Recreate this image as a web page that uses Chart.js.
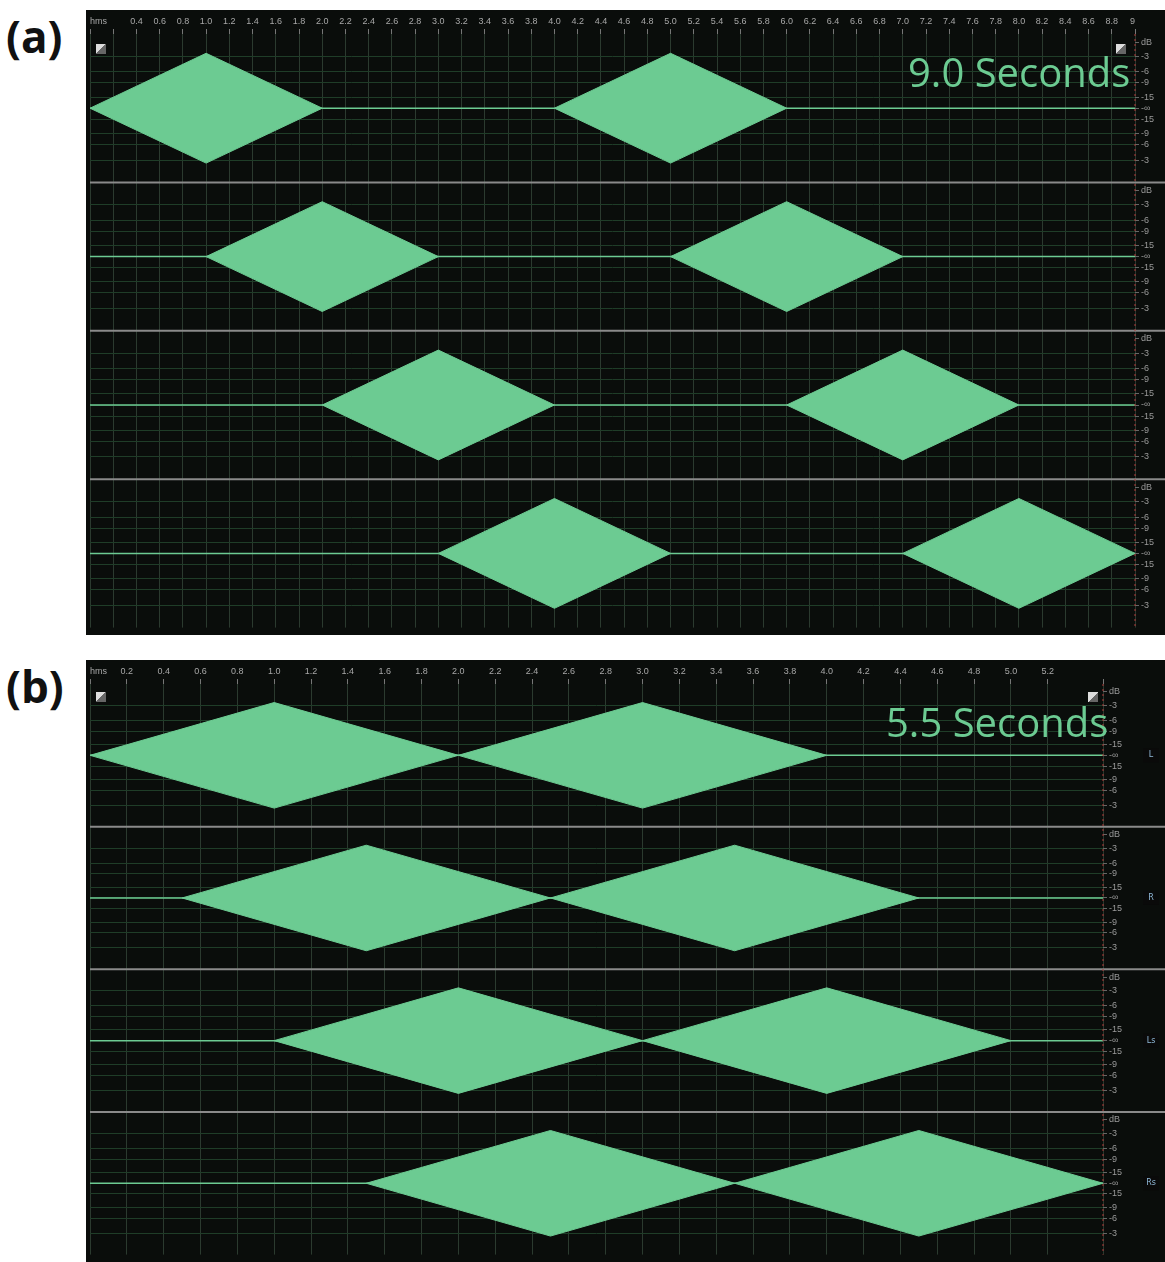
<!DOCTYPE html>
<html>
<head>
<meta charset="utf-8">
<script src="https://cdn.jsdelivr.net/npm/chart.js@4.4.1/dist/chart.umd.min.js"></script>
<style>
  body { margin: 0; background: #fff; width: 1165px; height: 1262px; position: relative; overflow: hidden; font-family: "Open Sans", "DejaVu Sans", sans-serif; }
  .panel { position: absolute; left: 86px; width: 1079px; background: #141414; }
  .tag { position: absolute; left: 6px; font: bold 44px "Open Sans", "DejaVu Sans", sans-serif; color: #111; }
  .secs { position: absolute; font-size: 40px; color: #6ccb92; font-family: "Open Sans", "Noto Sans", sans-serif; }
  .ico { position: absolute; width: 10px; height: 10px; background: linear-gradient(135deg, #ddd 50%, #666 50%); }
</style>
</head>
<body>
<div class="tag" style="top:6px">(a)</div>
<div class="tag" style="top:656px">(b)</div>
<div class="panel" style="top:10px;height:625px"><canvas id="chartA"></canvas></div>
<div class="panel" style="top:660px;height:602px"><canvas id="chartB"></canvas></div>
<div class="secs" style="left:908px;top:44px">9.0 Seconds</div>
<div class="secs" style="left:886px;top:694px">5.5 Seconds</div>
<div class="ico" style="left:96px;top:44px"></div>
<div class="ico" style="left:1116px;top:44px"></div>
<div class="ico" style="left:96px;top:692px"></div>
<div class="ico" style="left:1088px;top:692px"></div>
<script>
// track order top to bottom: L, R, Ls, Rs
const channels = ['L', 'R', 'Ls', 'Rs'];
const trackCenters = [3.5, 2.5, 1.5, 0.5];

// (a) 9.0 seconds: start time of each 2 s burst per track
const burstStartsA = [[0, 4], [1, 5], [2, 6], [3, 7]];
// (b) 5.5 seconds
const burstStartsB = [[0, 2], [0.5, 2.5], [1, 3], [1.5, 3.5]];
const burstLength = 2.0;
const burstAmp = 0.37;   // envelope peak, in track units (track height = 1)

// dB ruler on the right of each track, offset from centre as fraction of half track
const dbLabels  = ['-3', '-6', '-9', '-15', '-∞', '-15', '-9', '-6', '-3', 'dB'];
const dbOffsets = [-0.70, -0.49, -0.34, -0.15, 0, 0.15, 0.34, 0.49, 0.70, 0.89];

const green = '#6ccb92';

function buildDatasets(starts) {
    const sets = [];
    trackCenters.forEach((c, t) => {
        sets.push({
            data: [{ x: 0, y: c }, { x: 20, y: c }],
            borderColor: green, borderWidth: 1.5, pointRadius: 0, fill: false
        });
        starts[t].forEach(s => {
            const mid = s + burstLength / 2;
            const end = s + burstLength;
            sets.push({
                data: [{ x: s, y: c }, { x: mid, y: c + burstAmp }, { x: end, y: c }],
                borderColor: green, borderWidth: 1, pointRadius: 0, fill: false
            });
            sets.push({
                data: [{ x: s, y: c }, { x: mid, y: c - burstAmp }, { x: end, y: c }],
                borderColor: green, borderWidth: 1, pointRadius: 0,
                backgroundColor: green, fill: '-1'
            });
        });
    });
    return sets;
}

const trackDecor = {
    id: 'trackDecor',
    afterDatasetsDraw(chart, args, opts) {
        const { ctx, chartArea, scales } = chart;
        ctx.save();
        // track separators
        ctx.strokeStyle = '#8a8a8a';
        ctx.lineWidth = 2;
        [1, 2, 3].forEach(v => {
            const y = scales.y.getPixelForValue(v);
            ctx.beginPath();
            ctx.moveTo(chartArea.left, y);
            ctx.lineTo(chart.width, y);
            ctx.stroke();
        });
        // red dotted end marker
        ctx.strokeStyle = '#b03a3a';
        ctx.lineWidth = 1;
        ctx.setLineDash([2, 3]);
        ctx.beginPath();
        ctx.moveTo(chartArea.right, chartArea.top);
        ctx.lineTo(chartArea.right, chartArea.bottom);
        ctx.stroke();
        ctx.setLineDash([]);
        // channel badges
        if (opts.badges) {
            ctx.font = '8px "DejaVu Sans"';
            ctx.textAlign = 'center';
            ctx.textBaseline = 'middle';
            trackCenters.forEach((c, i) => {
                const y = scales.y.getPixelForValue(c);
                ctx.fillStyle = '#0a0a0a';
                ctx.fillRect(chart.width - 22, y - 7, 16, 14);
                ctx.fillStyle = '#8fb8d8';
                ctx.fillText(channels[i], chart.width - 14, y);
            });
        }
        ctx.restore();
    }
};

function makeChart(id, starts, maxT, yWidth, badges, firstLabel) {
    return new Chart(document.getElementById(id), {
        type: 'line',
        data: { datasets: buildDatasets(starts) },
        plugins: [trackDecor],
        options: {
            responsive: true,
            maintainAspectRatio: false,
            animation: false,
            layout: { padding: { left: 4, right: 0, top: 0, bottom: 0 } },
            plugins: { legend: { display: false }, tooltip: { enabled: false }, trackDecor: { badges } },
            scales: {
                x: {
                    type: 'linear', position: 'top', min: 0, max: maxT,
                    afterFit: s => { s.height = 24; s.paddingLeft = 0; s.paddingRight = 0; },
                    ticks: {
                        stepSize: 0.2, autoSkip: false, maxRotation: 0, color: '#a8a8a8',
                        font: { size: 9 }, padding: 2, align: 'inner',
                        callback: v => {
                            if (v === 0) return 'hms';
                            if (v < firstLabel - 0.05) return '';
                            if (v > maxT - 0.15) return Number.isInteger(maxT) ? String(maxT) : '';
                            return v.toFixed(1);
                        }
                    },
                    grid: { color: '#2b3a2f', tickColor: '#777', tickLength: 5, lineWidth: 1 },
                    border: { display: false }
                },
                y: {
                    type: 'linear', position: 'right', min: 0, max: 4,
                    afterFit: s => { s.width = yWidth; },
                    afterBuildTicks: s => {
                        const ticks = [];
                        trackCenters.slice().reverse().forEach(c => {
                            dbOffsets.forEach((o, i) => ticks.push({ value: c + o * 0.5, label: dbLabels[i] }));
                        });
                        s.ticks = ticks;
                    },
                    ticks: {
                        autoSkip: false, color: '#9a9a9a', font: { size: 9 }, padding: 2,
                        callback: function (v, i) { return dbLabels[i % dbLabels.length]; }
                    },
                    grid: {
                        color: ctx => (ctx.tick && ctx.index % dbLabels.length === 9) ? 'rgba(0,0,0,0)' : '#1f3d28',
                        tickColor: '#666', tickLength: 4
                    },
                    border: { display: false }
                }
            }
        }
    });
}

document.querySelectorAll('canvas').forEach(c => { c.parentNode.style.background = '#0a0d0b'; });
makeChart('chartA', burstStartsA, 9.0, 30, false, 0.4);
makeChart('chartB', burstStartsB, 5.5, 62, true, 0.2);
</script>
</body>
</html>
